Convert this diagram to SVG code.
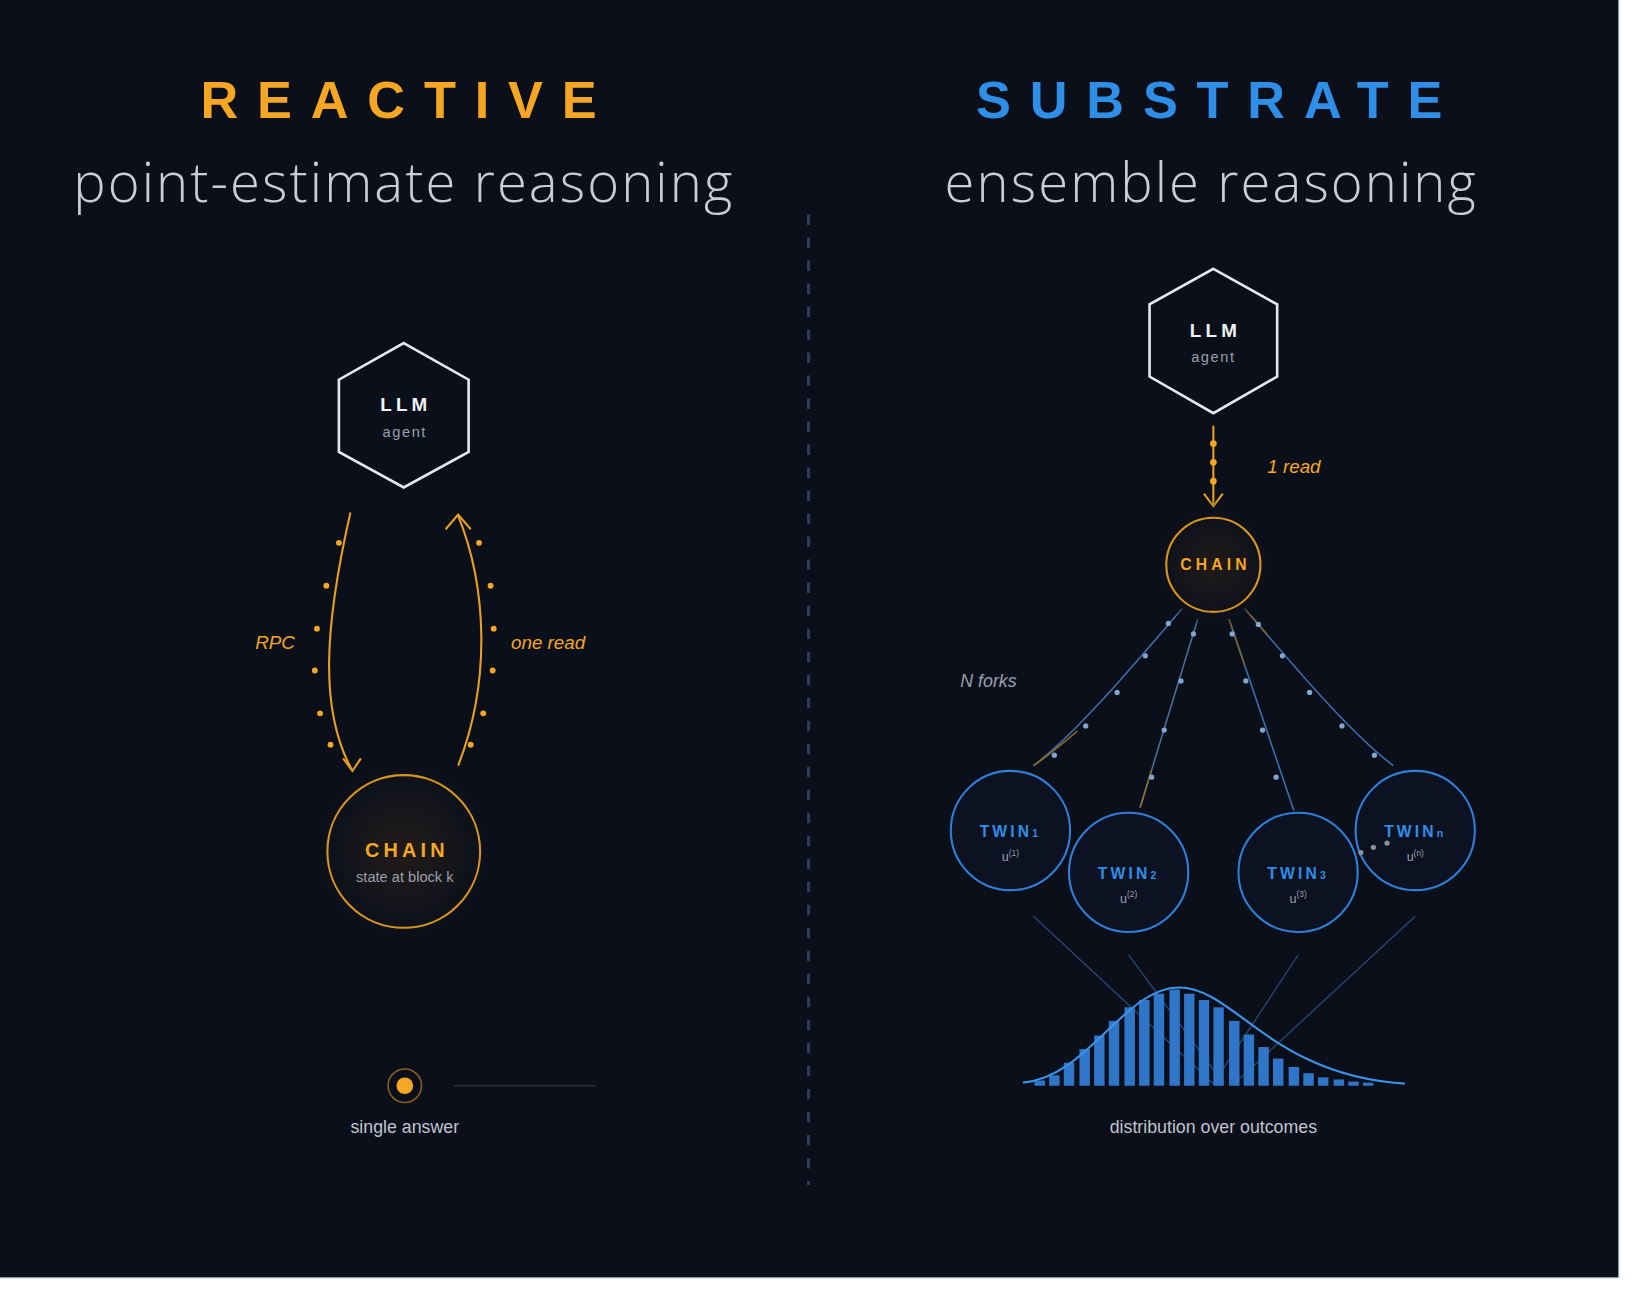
<svg xmlns="http://www.w3.org/2000/svg" width="1640" height="1299" viewBox="0 0 1640 1299">
<defs>
<radialGradient id="glowO"><stop offset="0" stop-color="#211b18"/><stop offset="0.6" stop-color="#13141b"/><stop offset="1" stop-color="#0b0f1a" stop-opacity="0"/></radialGradient>
</defs>
<style>
.t{font-family:"Liberation Sans",Arial,sans-serif;text-anchor:middle}
.title{font-size:50px;font-weight:bold;letter-spacing:18px}
.sub{font-size:52px;fill:#c9cdd6;font-family:"Open Sans","Liberation Sans",sans-serif;font-weight:300;letter-spacing:2px}
.llm{font-size:18px;font-weight:bold;fill:#f0f2f5;letter-spacing:4px}
.agent{font-size:14px;fill:#9aa0ad;letter-spacing:1.5px}
.hex{fill:#0b0f1a;stroke:#e6e8ee;stroke-width:2.5}
.or{fill:#f5a623}
.lab{font-size:18px;font-style:italic;fill:#f5a623}
.dotO{fill:#f5a623}
.dotB{fill:#7fa8d0}
.twin{fill:#0c1222;stroke:#2f7fd8;stroke-width:2}
.tw{font-size:15px;font-weight:bold;fill:#2f8fe8;letter-spacing:3px}
.u{font-size:12px;fill:#9aa0ad}
.bar{fill:#2f76c8}
</style>
<rect width="1640" height="1299" fill="#ffffff"/>
<g transform="scale(1.046)">
<rect x="0" y="0" width="1547" height="1221" fill="#0b0f1a"/>
<rect x="1547" y="0" width="1" height="1221" fill="#8a8f99"/>
<rect x="0" y="1221" width="1548" height="1" fill="#8a8f99"/>

<text class="t title" x="390" y="113" fill="#f5a623">REACTIVE</text>
<text class="t sub" x="386" y="193">point-estimate reasoning</text>
<text class="t title" x="1165" y="113" fill="#2f8fe8">SUBSTRATE</text>
<text class="t sub" x="1158" y="193">ensemble reasoning</text>

<line x1="773" y1="205" x2="773" y2="1133" stroke="#2a3d60" stroke-width="3" stroke-dasharray="10 12"/>

<g id="connectors" fill="none">
<path d="M335,490 C310,600 305,680 337,737" stroke="#e8a020" stroke-width="2"/>
<polyline points="328,725 337,737 345,725" stroke="#e8a020" stroke-width="2"/>
<path d="M438,732 C470,650 465,560 438,493" stroke="#e8a020" stroke-width="2"/>
<polyline points="426,506 438,492 450,506" stroke="#e8a020" stroke-width="2"/>
<g class="dotO" stroke="none">
<circle cx="324" cy="519" r="2.8"/><circle cx="312" cy="560" r="2.8"/><circle cx="303" cy="601" r="2.8"/><circle cx="301" cy="641" r="2.8"/><circle cx="306" cy="682" r="2.8"/><circle cx="316" cy="712" r="2.8"/>
<circle cx="458" cy="519" r="2.8"/><circle cx="469" cy="560" r="2.8"/><circle cx="472" cy="601" r="2.8"/><circle cx="471" cy="641" r="2.8"/><circle cx="462" cy="682" r="2.8"/><circle cx="450" cy="712" r="2.8"/>
</g>
<line x1="1160" y1="407" x2="1160" y2="483" stroke="#e8a020" stroke-width="2"/>
<polyline points="1151,472 1160,484 1169,472" stroke="#e8a020" stroke-width="2"/>
<g class="dotO" stroke="none"><circle cx="1160" cy="424" r="3.2"/><circle cx="1160" cy="442" r="3.2"/><circle cx="1160" cy="460" r="3.2"/></g>

<path d="M1130,582 C1080,640 1030,700 988,732" stroke="#3b6fae" stroke-width="1.5"/>
<path d="M1030,699 C1012,714 1000,724 988,732" stroke="#8a6a2e" stroke-width="1.5"/>
<path d="M1145,592 L1090,772" stroke="#4a6f9a" stroke-width="1.5"/>
<path d="M1101,736 L1090,772" stroke="#8a6a2e" stroke-width="1.5"/>
<path d="M1175,592 L1237,775" stroke="#3b6fae" stroke-width="1.5"/>
<path d="M1175,592 L1190,636" stroke="#7a6232" stroke-width="1.5"/>
<path d="M1190,582 C1240,640 1290,700 1332,732" stroke="#3b6fae" stroke-width="1.5"/>
<path d="M1190,582 L1212,607" stroke="#7a6232" stroke-width="1.5"/>
<g class="dotB" stroke="none">
<circle cx="1117" cy="596" r="2.5"/><circle cx="1095" cy="627" r="2.5"/><circle cx="1068" cy="662" r="2.5"/><circle cx="1038" cy="694" r="2.5"/><circle cx="1008" cy="722" r="2.5"/>
<circle cx="1141" cy="606" r="2.5"/><circle cx="1129" cy="651" r="2.5"/><circle cx="1113" cy="698" r="2.5"/><circle cx="1101" cy="743" r="2.5"/>
<circle cx="1178" cy="606" r="2.5"/><circle cx="1191" cy="651" r="2.5"/><circle cx="1207" cy="698" r="2.5"/><circle cx="1220" cy="743" r="2.5"/>
<circle cx="1203" cy="597" r="2.5"/><circle cx="1226" cy="627" r="2.5"/><circle cx="1252" cy="662" r="2.5"/><circle cx="1283" cy="694" r="2.5"/><circle cx="1314" cy="722" r="2.5"/>
</g>
<g stroke="#2c4a78" stroke-width="1.2">
<line x1="988" y1="876" x2="1160" y2="1036"/>
<line x1="1079" y1="913" x2="1170" y2="1036"/>
<line x1="1241" y1="913" x2="1160" y2="1036"/>
<line x1="1353" y1="876" x2="1180" y2="1036"/>
</g>
</g>

<g id="llm-left">
<polygon class="hex" points="386,328 448,363 448,432 386,466 324,432 324,363"/>
<text class="t llm" x="388" y="393">LLM</text>
<text class="t agent" x="387" y="418">agent</text>
</g>
<g id="chain-left">
<circle cx="386" cy="814" r="95" fill="url(#glowO)"/>
<circle cx="386" cy="814" r="73" fill="none" stroke="#d9961e" stroke-width="2"/>
<text class="t or" x="389" y="819" style="font-size:19px;font-weight:bold;letter-spacing:4px">CHAIN</text>
<text class="t" x="387" y="843" style="font-size:14px;fill:#9aa0ad">state at block k</text>
</g>
<text class="t lab" x="263" y="620">RPC</text>
<text class="t lab" x="524" y="620">one read</text>

<g id="single-answer">
<circle cx="387" cy="1038" r="16" fill="none" stroke="#8a6020" stroke-width="1.5"/>
<circle cx="387" cy="1038" r="8" class="or"/>
<line x1="434" y1="1038" x2="570" y2="1038" stroke="#2a2f3a" stroke-width="1.2"/>
<text class="t" x="387" y="1083" style="font-size:17px;fill:#c0c4d0">single answer</text>
</g>

<g id="llm-right">
<polygon class="hex" points="1160,257 1221,291 1221,360 1160,395 1099,360 1099,291"/>
<text class="t llm" x="1162" y="322">LLM</text>
<text class="t agent" x="1160" y="346">agent</text>
</g>
<text class="t lab" x="1237" y="452">1 read</text>
<g id="chain-right">
<circle cx="1160" cy="540" r="62" fill="url(#glowO)"/>
<circle cx="1160" cy="540" r="45" fill="none" stroke="#d9961e" stroke-width="2"/>
<text class="t or" x="1162" y="545" style="font-size:15px;font-weight:bold;letter-spacing:4px">CHAIN</text>
</g>
<text class="t" x="945" y="657" style="font-size:17px;font-style:italic;fill:#9aa0b0">N forks</text>

<g id="twin1"><circle cx="966" cy="794" r="57" class="twin"/><text class="t tw" x="966" y="800">TWIN<tspan style="font-size:10px">1</tspan></text><text class="t u" x="966" y="823">u<tspan dy="-5" style="font-size:8px">(1)</tspan></text></g>
<g id="twin2"><circle cx="1079" cy="834" r="57" class="twin"/><text class="t tw" x="1079" y="840">TWIN<tspan style="font-size:10px">2</tspan></text><text class="t u" x="1079" y="863">u<tspan dy="-5" style="font-size:8px">(2)</tspan></text></g>
<g id="twin3"><circle cx="1241" cy="834" r="57" class="twin"/><text class="t tw" x="1241" y="840">TWIN<tspan style="font-size:10px">3</tspan></text><text class="t u" x="1241" y="863">u<tspan dy="-5" style="font-size:8px">(3)</tspan></text></g>
<g id="twinn"><circle cx="1353" cy="794" r="57" class="twin"/><text class="t tw" x="1353" y="800">TWIN<tspan style="font-size:10px">n</tspan></text><text class="t u" x="1353" y="823">u<tspan dy="-5" style="font-size:8px">(n)</tspan></text>
<g fill="#8a909c"><circle cx="1301" cy="815" r="2.5"/><circle cx="1313" cy="810" r="2.5"/><circle cx="1326" cy="806" r="2.5"/></g></g>

<g id="distribution">
<g class="bar">
<rect x="989" y="1033" width="10" height="5"/><rect x="1003" y="1028" width="10" height="10"/><rect x="1017" y="1016" width="10" height="22"/><rect x="1032" y="1003" width="10" height="35"/><rect x="1046" y="990" width="10" height="48"/><rect x="1060" y="976" width="10" height="62"/><rect x="1075" y="963" width="10" height="75"/><rect x="1089" y="956" width="10" height="82"/><rect x="1103" y="950" width="10" height="88"/><rect x="1118" y="946" width="10" height="92"/><rect x="1132" y="950" width="10" height="88"/><rect x="1146" y="956" width="10" height="82"/><rect x="1160" y="963" width="10" height="75"/><rect x="1175" y="976" width="10" height="62"/><rect x="1189" y="989" width="10" height="49"/><rect x="1203" y="1001" width="10" height="37"/><rect x="1217" y="1012" width="10" height="26"/><rect x="1232" y="1020" width="10" height="18"/><rect x="1246" y="1026" width="10" height="12"/><rect x="1260" y="1030" width="10" height="8"/><rect x="1275" y="1032" width="10" height="6"/><rect x="1289" y="1034" width="10" height="4"/><rect x="1303" y="1035" width="10" height="3"/>
</g>
<path d="M978,1035 C1040,1030 1075,944 1127,944 C1180,944 1215,1028 1343,1036" fill="none" stroke="#3a92ea" stroke-width="2"/>
<text class="t" x="1160" y="1083" style="font-size:17px;fill:#c0c4d0">distribution over outcomes</text>
</g>
</g>
</svg>
